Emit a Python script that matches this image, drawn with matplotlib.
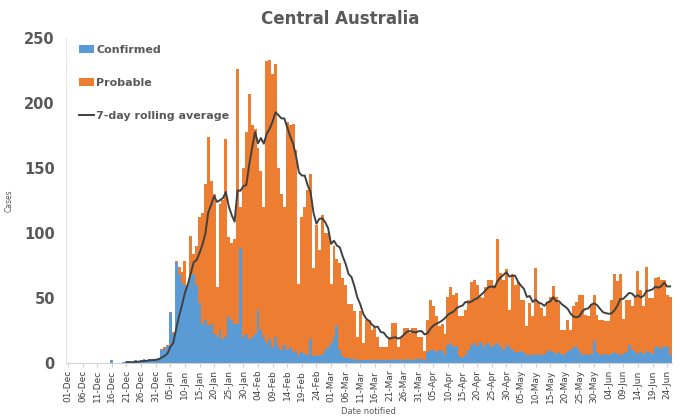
import matplotlib
matplotlib.use('Agg')
import matplotlib.pyplot as plt
import pandas as pd
import numpy as np

# Casos diarios, 01-Dec-2021 a 25-Jun-2022
confirmed_dec = [0] * 15 + [2, 0, 0, 0, 1, 1, 0, 1, 2, 1, 2, 3, 2, 3, 2, 3]
confirmed_jan = [4, 10, 11, 13, 38, 22, 77, 68, 62, 60, 58, 66, 68, 60, 46, 30,
                 33, 28, 30, 22, 20, 25, 18, 20, 35, 33, 30, 30, 88, 20, 22]
confirmed_feb = [18, 20, 22, 41, 25, 20, 15, 18, 12, 20, 12, 10, 14, 10, 12, 8,
                 10, 6, 8, 7, 6, 18, 5, 6, 5, 7, 10, 12]
confirmed_mar = [15, 20, 28, 10, 5, 4, 4, 3, 3, 2, 2, 2, 2, 2, 2, 2, 2, 2, 2, 2,
                 2, 2, 3, 2, 2, 2, 3, 2, 2, 3, 3]
confirmed_apr = [3, 2, 8, 10, 10, 8, 10, 9, 6, 14, 15, 12, 13, 5, 4, 6, 10, 14,
                 15, 13, 16, 12, 14, 15, 12, 14, 15, 12, 10, 14]
confirmed_may = [12, 10, 8, 8, 9, 8, 6, 6, 6, 7, 6, 6, 7, 9, 9, 8, 7, 8, 7, 6,
                 8, 10, 12, 12, 9, 6, 7, 6, 7, 17, 8]
confirmed_jun = [7, 6, 7, 6, 7, 8, 7, 6, 7, 8, 14, 10, 8, 7, 8, 7, 9, 8, 7, 12,
                 12, 11, 13, 12, 6]

probable_dec = [0] * 31
probable_jan = [0, 1, 1, 1, 1, 2, 1, 6, 8, 18, 2, 32, 16, 30, 66, 85, 105, 146,
                110, 108, 38, 97, 107, 152, 62, 59, 65, 196, 32, 130, 156]
probable_feb = [189, 163, 158, 124, 123, 100, 217, 215, 210, 210, 138, 120, 106,
                175, 171, 176, 154, 55, 104, 113, 127, 127, 68, 100, 82, 107, 90, 88]
probable_mar = [46, 70, 52, 67, 60, 56, 41, 42, 37, 18, 38, 13, 31, 31, 23, 26,
                18, 10, 10, 10, 18, 29, 28, 10, 18, 25, 24, 21, 25, 24, 17]
probable_apr = [17, 7, 25, 38, 34, 28, 18, 21, 16, 37, 43, 40, 41, 31, 32, 35,
                38, 48, 49, 47, 35, 38, 44, 49, 52, 46, 80, 57, 54, 58]
probable_may = [29, 58, 52, 54, 39, 40, 22, 40, 30, 66, 40, 36, 29, 38, 42, 51,
                44, 38, 18, 19, 25, 15, 32, 35, 43, 46, 30, 30, 38, 35, 29]
probable_jun = [26, 27, 25, 26, 41, 60, 56, 62, 27, 40, 34, 34, 43, 64, 48, 37,
                65, 42, 43, 53, 54, 53, 51, 40, 45]

confirmed = np.array(confirmed_dec + confirmed_jan + confirmed_feb + confirmed_mar
                     + confirmed_apr + confirmed_may + confirmed_jun)
probable = np.array(probable_dec + probable_jan + probable_feb + probable_mar
                    + probable_apr + probable_may + probable_jun)
fechas = pd.date_range('2021-12-01', periods=len(confirmed), freq='D')

# Promedio movil de 7 dias (se muestra desde el 21-Dec)
promedio = pd.Series(confirmed + probable).rolling(7).mean()
promedio[:20] = np.nan

azul = '#5B9BD5'
naranja = '#ED7D31'
gris = '#595959'

fig = plt.figure(figsize=(6.8, 4.18), dpi=100)
ax = fig.add_axes([0.097, 0.132, 0.891, 0.777])

x = np.arange(len(fechas))
b1 = ax.bar(x, confirmed, width=1.0, color=azul, linewidth=0, label='Confirmed')
b2 = ax.bar(x, probable, width=1.0, bottom=confirmed, color=naranja, linewidth=0,
            label='Probable')
l1, = ax.plot(x, promedio, color='#404040', linewidth=1.4,
              label='7-day rolling average')

ax.set_xlim(-0.7, len(x) - 0.4)
ax.set_ylim(0, 250)
ax.set_yticks(range(0, 251, 50))

pos = x[::5]
ax.set_xticks(pos)
ax.set_xticklabels([fechas[i].strftime('%d-%b') for i in pos], rotation=90,
                   fontsize=6.5, color='#404040')
ax.tick_params(axis='x', length=3, color='#d0d0d0', pad=2)
ax.tick_params(axis='y', length=0, labelsize=10.5, labelcolor=gris, pad=8)
for lbl in ax.get_yticklabels():
    lbl.set_fontweight('semibold')

for lado in ['top', 'right']:
    ax.spines[lado].set_visible(False)
ax.spines['left'].set_color('#e6e6e6')
ax.spines['bottom'].set_color('#d0d0d0')

ax.set_ylabel('Cases', fontsize=5.5, color=gris)
ax.yaxis.set_label_coords(-0.086, 0.5)
ax.set_xlabel('Date notified', fontsize=6, color=gris, labelpad=3)

fig.text(0.5, 0.955, 'Central Australia', ha='center', va='center',
         fontsize=12, fontweight='bold', color=gris)

leg = ax.legend(handles=[b1, b2, l1], loc='upper left', bbox_to_anchor=(0.01, 1.0),
                frameon=False, fontsize=8, labelspacing=2.1, handlelength=1.4,
                handletextpad=0.2, borderaxespad=0.2)
for t in leg.get_texts():
    t.set_fontweight('bold')
    t.set_color(gris)

fig.savefig('out.png', dpi=100)
